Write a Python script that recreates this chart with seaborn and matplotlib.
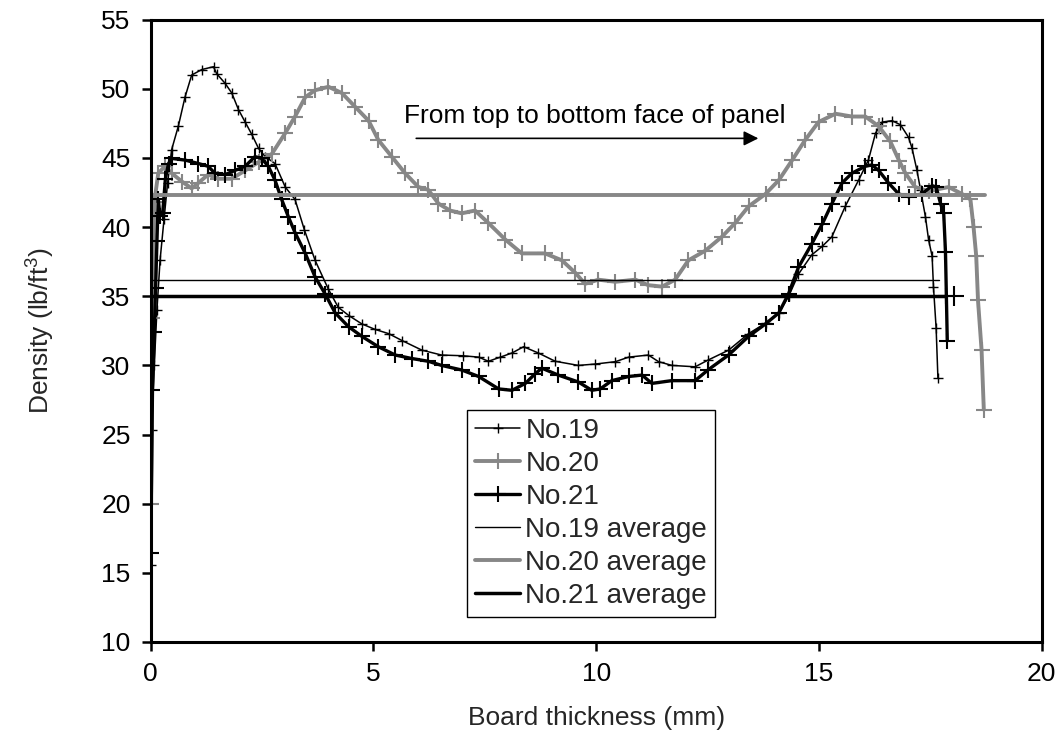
import matplotlib
matplotlib.use("Agg")
import matplotlib.pyplot as plt
import seaborn as sns
import pandas as pd

# ---- data ----
no19_x = [0.0, 0.02, 0.08, 0.14, 0.21, 0.3, 0.38, 0.47, 0.62, 0.77, 0.92, 1.15, 1.41, 1.48,
          1.67, 1.82, 1.97, 2.12, 2.27, 2.42, 2.57, 2.79, 3.02, 3.24, 3.45, 3.69, 3.99, 4.21,
          4.45, 4.74, 5.04, 5.34, 5.64, 6.09, 6.53, 7.0, 7.36, 7.58, 7.85, 8.11, 8.37, 8.7,
          9.08, 9.6, 9.98, 10.43, 10.73, 11.17, 11.4, 11.7, 12.22, 12.52, 12.97, 13.42, 13.8,
          14.1, 14.32, 14.54, 14.84, 15.07, 15.29, 15.59, 15.89, 16.11, 16.27, 16.42, 16.64,
          16.83, 17.01, 17.09, 17.2, 17.28, 17.39, 17.46, 17.54, 17.57, 17.63, 17.67]
no19_y = [15.6, 25.3, 30.0, 34.0, 37.6, 40.6, 43.2, 45.6, 47.3, 49.4, 51.0, 51.4, 51.6, 51.1,
          50.4, 49.7, 48.5, 47.6, 46.7, 45.7, 45.1, 44.6, 42.9, 42.0, 39.8, 37.6, 35.5, 34.2,
          33.6, 33.0, 32.6, 32.3, 31.8, 31.1, 30.75, 30.7, 30.6, 30.3, 30.6, 30.9, 31.35, 30.9,
          30.3, 30.0, 30.1, 30.27, 30.6, 30.75, 30.27, 30.0, 29.9, 30.4, 31.1, 32.3, 33.05,
          33.8, 35.0, 36.6, 38.0, 38.6, 39.3, 41.5, 43.4, 44.85, 46.8, 47.6, 47.7,
          47.4, 46.5, 45.7, 44.1, 42.7, 40.75, 39.1, 37.9, 35.7, 32.7, 29.1]

no20_x = [0.01, 0.04, 0.08, 0.17, 0.32, 0.47, 0.7, 0.92, 1.07, 1.29, 1.52, 1.82, 2.12, 2.42,
          2.72, 3.02, 3.24, 3.47, 3.69, 3.99, 4.29, 4.59, 4.89, 5.11, 5.41, 5.71, 6.01, 6.23,
          6.46, 6.72, 6.98, 7.28, 7.58, 7.96, 8.33, 8.85, 9.23, 9.53, 9.75, 10.05, 10.43,
          10.88, 11.17, 11.48, 11.77, 12.07, 12.45, 12.82, 13.12, 13.42, 13.8, 14.1, 14.4,
          14.69, 14.99, 15.37, 15.74, 16.04, 16.34, 16.6, 16.8, 16.94, 17.16, 17.46, 17.91,
          18.21, 18.4, 18.47, 18.53, 18.57, 18.65, 18.7]
no20_y = [20.0, 33.45, 41.8, 43.9, 44.4, 43.9, 43.3, 42.8, 43.2, 43.8, 43.5, 43.5, 44.1, 44.7,
          45.3, 46.8, 48.0, 49.4, 49.9, 50.15, 49.7, 48.7, 47.7, 46.3, 45.1, 43.9, 42.9, 42.7,
          41.7, 41.2, 41.0, 41.2, 40.3, 39.1, 38.1, 38.1, 37.6, 36.7, 35.9, 36.2, 36.05,
          36.2, 35.8, 35.7, 36.2, 37.6, 38.3, 39.3, 40.3, 41.5, 42.4, 43.4, 44.85,
          46.3, 47.6, 48.2, 48.0, 48.0, 47.3, 46.2, 44.8, 43.9, 42.9, 42.6, 42.9,
          42.4, 42.0, 40.0, 37.9, 34.7, 31.1, 26.8]

no21_x = [0.0, 0.04, 0.08, 0.11, 0.14, 0.17, 0.21, 0.27, 0.33, 0.4, 0.47, 0.77, 1.07, 1.29,
          1.44, 1.67, 1.89, 2.12, 2.34, 2.49, 2.64, 2.79, 2.94, 3.09, 3.24, 3.47, 3.69, 3.91,
          4.14, 4.44, 4.74, 5.11, 5.49, 5.86, 6.23, 6.53, 6.98, 7.36, 7.81, 8.11, 8.41, 8.63,
          8.78, 9.15, 9.6, 9.9, 10.09, 10.35, 10.73, 11.03, 11.25, 11.7, 12.22, 12.52, 12.97,
          13.42, 13.8, 14.1, 14.32, 14.54, 14.84, 15.07, 15.29, 15.52, 15.74, 16.04, 16.19,
          16.34, 16.56, 16.79, 17.01, 17.31, 17.54, 17.63, 17.73, 17.8, 17.84, 17.86, 17.88]
no21_y = [16.4, 28.2, 32.4, 35.6, 39.0, 42.0, 40.8, 41.0, 43.5, 44.6, 44.97, 44.85, 44.6, 44.4,
          43.9, 43.8, 44.1, 44.4, 45.1, 44.97, 44.4, 43.4, 42.0, 40.75, 39.6, 38.1, 36.4, 35.2,
          33.8, 32.8, 32.1, 31.35, 30.75, 30.5, 30.3, 30.0, 29.67, 29.2, 28.3, 28.2, 28.7, 29.4,
          29.8, 29.3, 28.8, 28.2, 28.3, 28.9, 29.2, 29.3, 28.7, 28.9, 28.9, 29.7, 30.75,
          32.1, 33.0, 33.8, 35.2, 37.1, 38.8, 40.2, 41.7, 43.2, 43.9, 44.4, 44.5,
          44.1, 43.2, 42.4, 42.2, 42.4, 43.0, 42.9, 41.7, 41.0, 38.2, 35.0, 31.8]

avg_labels = ["No.19 average", "No.20 average", "No.21 average"]
avg_values = [36.2, 42.3, 35.0]
avg_end_x = [17.69, 18.72, 17.86]
extra_x = [18.02]
extra_y = [35.0]

x_ticks = [0, 5, 10, 15, 20]
y_ticks = [10, 15, 20, 25, 30, 35, 40, 45, 50, 55]

# ---- style ----
sns.set_theme(style="ticks")
plt.rcParams["font.family"] = ["Liberation Sans", "DejaVu Sans"]
plt.rcParams["mathtext.fontset"] = "custom"
plt.rcParams["mathtext.rm"] = "Liberation Sans"
plt.rcParams["mathtext.it"] = "Liberation Sans"

FS = 19
GRAY = "#878787"

fig = plt.figure(figsize=(10.62, 7.47), dpi=100)
ax = fig.add_axes([0.1419, 0.1406, 0.9809 - 0.1419, 0.9736 - 0.1406])

series = [
    ("No.19", no19_x, no19_y, "black", 1.1, 6.5, 1.0),
    ("No.20", no20_x, no20_y, GRAY, 2.8, 11, 1.5),
    ("No.21", no21_x, no21_y, "black", 2.4, 11, 1.5),
]
for name, xs, ys, col, lw, ms, mew in series:
    df = pd.DataFrame({"x": xs, "y": ys})
    sns.lineplot(data=df, x="x", y="y", ax=ax, color=col, linewidth=lw, marker="+",
                 markersize=ms, markeredgewidth=mew, markeredgecolor=col,
                 sort=False, estimator=None, label=name)

avg_styles = [("black", 1.0), (GRAY, 2.8), ("black", 2.5)]
for lab, val, xe, (col, lw) in zip(avg_labels, avg_values, avg_end_x, avg_styles):
    df = pd.DataFrame({"x": [0.0, xe], "y": [val, val]})
    sns.lineplot(data=df, x="x", y="y", ax=ax, color=col, linewidth=lw,
                 sort=False, estimator=None, label=lab)

sns.scatterplot(x=extra_x, y=extra_y, ax=ax, marker="+", s=200, color="black",
                linewidth=1.5, legend=False)

ax.set_xlim(0, 20)
ax.set_ylim(10, 55)
ax.set_xticks(x_ticks)
ax.set_yticks(y_ticks)
ax.tick_params(axis="both", labelsize=FS, direction="out", length=6.5, width=1.8,
               colors="black", pad=8)
for s in ax.spines.values():
    s.set_linewidth(2.2)
    s.set_color("black")
    s.set_visible(True)

ax.set_xlabel("Board thickness (mm)", fontsize=FS, labelpad=14)
ax.set_ylabel("Density (lb/ft$^{3}$)", fontsize=FS, labelpad=32)

ax.text(9.96, 47.5, "From top to bottom face of panel", fontsize=FS, ha="center",
        va="baseline", color="black")
ax.annotate("", xy=(13.64, 46.42), xytext=(5.96, 46.42),
            arrowprops=dict(arrowstyle="-|>", color="black", lw=1.2,
                            mutation_scale=22, shrinkA=0, shrinkB=0))

leg = ax.legend(loc="upper left", bbox_to_anchor=(0.355, 0.373), borderaxespad=0,
                fontsize=20, frameon=True, fancybox=False, handlelength=1.6,
                handletextpad=0.2, labelspacing=0.25, borderpad=0.3)
leg.get_frame().set_edgecolor("black")
leg.get_frame().set_linewidth(1.0)
leg.get_frame().set_facecolor("white")
leg.get_frame().set_alpha(1)

fig.savefig("out.png", dpi=100)
